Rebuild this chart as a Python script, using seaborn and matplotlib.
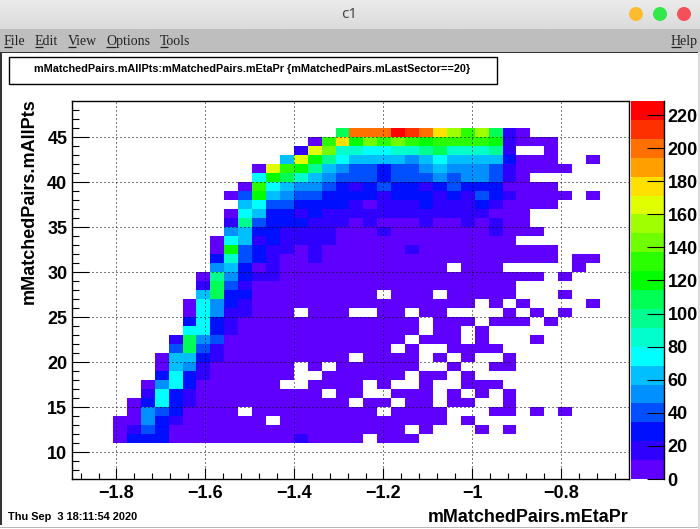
import numpy as np
import pandas as pd
import seaborn as sns
import matplotlib
matplotlib.use("Agg")
import matplotlib.pyplot as plt
from matplotlib.colors import ListedColormap, BoundaryNorm
from matplotlib.patches import Rectangle, Circle
from matplotlib.ticker import FixedLocator
from matplotlib.transforms import ScaledTranslation

plt.rcParams['font.family'] = ['Liberation Sans', 'DejaVu Sans']
plt.rcParams['font.weight'] = 'bold'

# ---------- data: colour-level index per cell (0 = empty), one list per mAllPts bin ----------
Z_MAX = 228.5
N_LEVELS = 20
ETA_FIRST_EDGE = -1.8074
ETA_BIN = 0.03126
PT_FIRST_EDGE = 11
N_COLS = 35

row_11 = (0, [1,3,3,3]+[1]*9+[2,1,1,1,1,0,1,1,1])
row_12 = (0, [1,2,4,3]+[1]*17+[0,1,0,0,0,1,0,1])
row_13 = (0, [1,1,5,3,2]+[1]*6+[0]+[1]*12+[0,1])
row_14 = (1, [1,5,4,3]+[1]*4+[0]+[1]*7+[1,1,0,1,1,1,1,0,0,0,1,1,0,1,0,1])
row_15 = (1, [1,3,7,3,2]+[1]*11+[0,1,1,0,1,1,0,1,1,0,0,1])
row_16 = (2, [2,7,3,2]+[1]*9+[0,1,1,0,0,1,1,1,0,1,0,1,0,1])
row_17 = (2, [1,5,7,3]+[1]*6+[0,0,1,1,1,1,0,1,0,0,1,0,0,1,1,1])
row_18 = (3, [3,7,3,2]+[1]*6+[0,0,1,1,1,1,1,1,0,1,1,0,1])
row_19 = (3, [1,6,5,2]+[1]*6+[0,1,0,1,1,1,1,1,1,0,0,1,0,0,1,1])
row_20 = (3, [1,6,6,3,2]+[1]*9+[0,1,1,1,1,0,1,0,1,0,0,1])
row_21 = (4, [4,10,4,2]+[1]*12+[0,1,0,0,1,1,1,1])
row_22 = (4, [2,10,5,4,1]+[1]*12+[0,1,1,1,0,1,0,0,0,1])
row_23 = (5, [7,7,3,2]+[1]*13+[0,1,1,0,1])
row_24 = (5, [3,7,3,2]+[1]*13+[0,1,1,1,0,1,1,1,0,1])
row_25 = (5, [1,7,5,2,2,1,1,1,0,1,1,1,0,0,1,1,0,1,1,0,0,0,0,1,0,1,0,1])
row_26 = (5, [1,7,5,3,2]+[1]*16+[0,1,0,1,0,0,0,0,1])
row_27 = (6, [6,10,3,3]+[1]*9+[0,1,1,1,0,1,1,1,1,1,0,0,0,1])
row_28 = (6, [2,10,4,2]+[1]*19)
row_29 = (6, [1,9,5,3,2,2]+[1]*19+[0,1])
row_30 = (7, [5,6,3,1,2,1,1,1,1,1]+[1]*7+[0,1,1,1,0,0,0,0,0,1])
row_31 = (7, [3,8,4,3,2,1,1,2,1,1]+[1]*15+[0,1,1])
row_32 = (7, [1,11,4,3,2,2,1,2,1,1,1,1,1,1,2]+[1]*10)
row_33 = (7, [1,7,6,2,3,2,2,2,2,1]+[1]*12)
row_34 = (8, [5,6,3,3,2,2,2,2,1,1,1,2,1,1,1,1,1,1,1,2,1,1,1])
row_35 = (8, [2,9,4,3,3,3,2,2,2,1,2,1,1,1,2,1,1,2,1,2,1,1])
row_36 = (8, [1,7,6,3,3,2,3,2,2,2,2,2,2,2,2,2,2,2,2,1,1,1])
row_37 = (9, [6,7,4,4,3,3,3,3,2,1,2,2,2,3,2,2,2,3,2,1,1,1,1])
row_38 = (8, [1,4,11,6,5,4,4,3,3,3,3,2,3,3,3,2,3,2,4,3,2,1,1,1,1,0,1])
row_39 = (9, [1,12,7,6,5,5,4,3,2,3,4,3,3,2,3,4,3,3,3,1,1,1,1])
row_40 = (10, [7,11,10,8,6,5,4,4,4,3,4,4,4,5,4,5,5,4,2,1])
row_41 = (10, [1,15,12,11,9,6,5,4,4,3,4,4,5,6,5,5,5,4,2,1,1,1,1])
row_42 = (12, [6,15,11,9,7,6,6,6,6,5,6,7,6,6,6,6,3,1,1,1,0,0,1])
row_43 = (13, [2,15,13,8,8,7,7,8,8,9,10,8,8,8,9,2,0,0,1])
row_44 = (14, [1,12,16,11,13,12,13,12,11,12,12,12,12,11,2,1,1,1])
row_45 = (16, [10,18,18,18,20,19,18,16,14,12,14,10,2,1])

all_rows = [row_11,row_12,row_13,row_14,row_15,row_16,row_17,row_18,row_19,row_20,
            row_21,row_22,row_23,row_24,row_25,row_26,row_27,row_28,row_29,row_30,
            row_31,row_32,row_33,row_34,row_35,row_36,row_37,row_38,row_39,row_40,
            row_41,row_42,row_43,row_44,row_45]

level_colors = ['#5f00ff','#3000ff','#0010ff','#0050ff','#0090ff','#00bfff','#00ffff',
                '#00ffcc','#00ff90','#00ff55','#00ff00','#2aff00','#70ff00','#a0ff00',
                '#e0ff00','#ffe000','#ffa000','#ff7000','#ff3000','#ff0000']
x_major = [-1.8,-1.6,-1.4,-1.2,-1.0,-0.8]
x_labels = ['\u22121.8','\u22121.6','\u22121.4','\u22121.2','\u22121','\u22120.8']
y_major = [10,15,20,25,30,35,40,45]
z_ticks = list(range(0,221,20))
menu_items = [('File',4,8),('Edit',35,8),('View',68,8),('Options',106,10),('Tools',160,8),('Help',671,10)]

# ---------- table ----------
width = Z_MAX/N_LEVELS
grid = np.zeros((len(all_rows), N_COLS))
for i,(start,levels) in enumerate(all_rows):
    for j,l in enumerate(levels):
        grid[i,start+j] = (l-0.5)*width if l>0 else 0
df = pd.DataFrame(grid)

W,H = 700,529
fig = plt.figure(figsize=(W/100,H/100),dpi=100,facecolor='white')

# ---------- window chrome in pixel coordinates ----------
bg = fig.add_axes([0,0,1,1],zorder=-1)
bg.set_xlim(0,W); bg.set_ylim(H,0); bg.axis('off')
grad = np.linspace(0.92,0.855,30).reshape(-1,1)
bg.imshow(grad,extent=(0,W,29,0),cmap='gray',vmin=0,vmax=1,aspect='auto',zorder=0)
bg.set_xlim(0,W); bg.set_ylim(H,0)
bg.add_patch(Rectangle((0,29),W,23,color='#bebebe',lw=0))
bg.add_patch(Rectangle((0,52),W,1.2,color='#333333',lw=0))
bg.add_patch(Rectangle((0,52),2,473,color='#333333',lw=0))
bg.add_patch(Rectangle((0,526.5),W,1.5,color='#b8b8b8',lw=0))
bg.add_patch(Rectangle((698,52),2,477,color='#d8d8d8',lw=0))
for cx,c in zip([636,660,684],['#fdbc2f','#33e84a','#f4505a']):
    bg.add_patch(Circle((cx,14),7,color=c,lw=0))
bg.text(349,15,'c1',family='Noto Sans',weight='normal',fontsize=11,color='#444444',ha='center',va='center')
for name,x,uw in menu_items:
    bg.text(x,41.5,name,family='Liberation Serif',weight='normal',fontsize=10,color='#222222',ha='left',va='center')
    bg.plot([x,x+uw],[46.5,46.5],color='#222222',lw=0.9,solid_capstyle='butt')
bg.add_patch(Rectangle((8.5,56.5),488,27,fill=False,ec='black',lw=1))
bg.text(252,69.5,'mMatchedPairs.mAllPts:mMatchedPairs.mEtaPr {mMatchedPairs.mLastSector==20}',
        fontsize=7.83,ha='center',va='center',color='black')
bg.text(8,517.5,'Thu Sep  3 18:11:54 2020',fontsize=7.95,ha='left',va='center',color='black')
bg.text(628.5,517,'mMatchedPairs.mEtaPr',fontsize=12.85,ha='right',va='center',color='black')
bg.text(29.5,98,'mMatchedPairs.mAllPts',fontsize=13,rotation=90,ha='center',va='top',color='black')

# ---------- heatmap ----------
L,R,T,B = 71.5,628.5,101,479.3
ax = fig.add_axes([L/W,1-B/H,(R-L)/W,(B-T)/H])
cax = fig.add_axes([631/W,1-479/H,33/W,378/H])
cmap = ListedColormap(level_colors)
norm = BoundaryNorm(np.linspace(0,Z_MAX,N_LEVELS+1),N_LEVELS)
sns.heatmap(df,ax=ax,cbar_ax=cax,cmap=cmap,norm=norm,mask=(df==0),linewidths=0,
            cbar_kws={'ticks':z_ticks,'spacing':'proportional'})

to_cx = lambda e:(np.asarray(e)-ETA_FIRST_EDGE)/ETA_BIN
to_cy = lambda p:np.asarray(p)-PT_FIRST_EDGE
ax.set_xlim(to_cx(-1.9007),to_cx(-0.6490))
ax.set_ylim(to_cy(7.0),to_cy(49.03))
ax.set_xticks(to_cx(x_major)); ax.set_xticklabels(x_labels,rotation=0)
ax.set_yticks(to_cy(y_major)); ax.set_yticklabels([str(v) for v in y_major],rotation=0)
x_minor = [v for v in np.arange(-1.88,-0.65,0.04) if min(abs(v-m) for m in x_major)>1e-6]
y_minor = [v for v in range(8,49) if v not in y_major]
ax.xaxis.set_minor_locator(FixedLocator(to_cx(x_minor)))
ax.yaxis.set_minor_locator(FixedLocator(to_cy(y_minor)))
ax.tick_params(axis='both',which='major',direction='in',length=8,width=0.8,labelsize=13,colors='black')
ax.tick_params(axis='y',which='major',length=12.5,pad=3)
ax.tick_params(axis='x',which='major',pad=4)
ax.tick_params(axis='y',which='minor',direction='in',length=5,width=0.8)
ax.tick_params(axis='x',which='minor',direction='in',length=4,width=0.8)
ax.set_axisbelow(False)
ax.grid(which='major',color='black',linestyle=(0,(1,3)),linewidth=0.72)
ax.set_xlabel(''); ax.set_ylabel('')
for s in ax.spines.values():
    s.set_visible(True); s.set_linewidth(1); s.set_color('black'); s.set_zorder(5)
shift = ScaledTranslation(0,-2.5/100,fig.dpi_scale_trans)
for lab in ax.get_yticklabels():
    lab.set_transform(lab.get_transform()+shift)

cb = ax.collections[0].colorbar
cb.outline.set_visible(False)
cax.spines['right'].set_visible(True); cax.spines['right'].set_color('black'); cax.spines['right'].set_linewidth(1)
cax.tick_params(which='major',direction='in',length=12.5,width=0.8,labelsize=13,pad=2.5,right=True,colors='black')
cax.minorticks_off()

fig.savefig('out.png',dpi=100)
